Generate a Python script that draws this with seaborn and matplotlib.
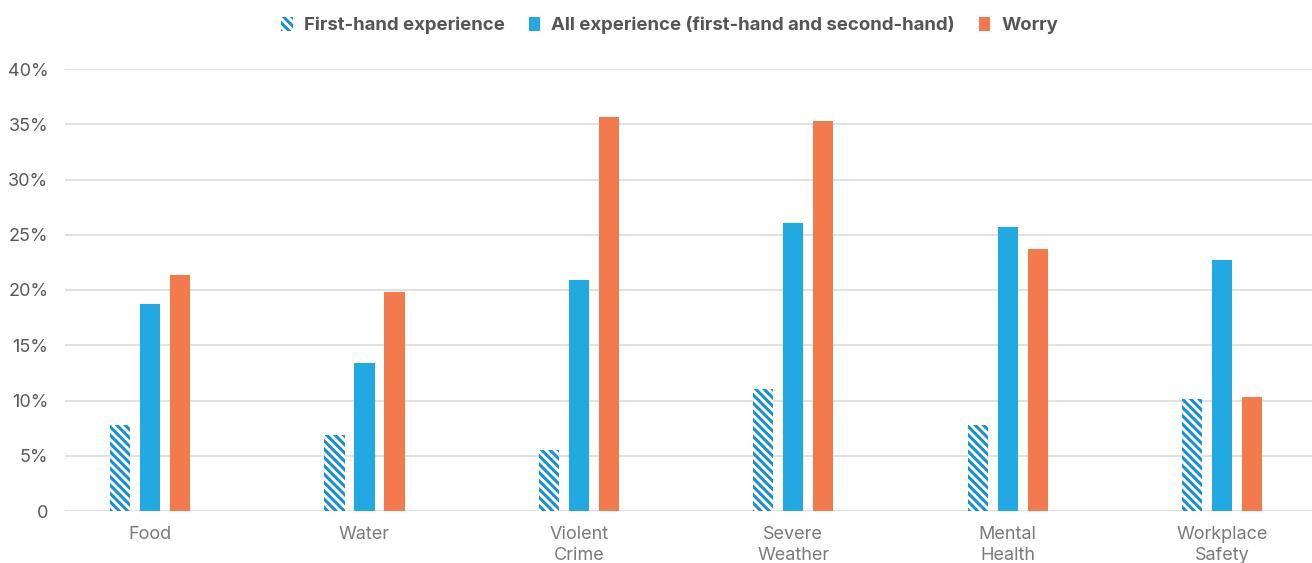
import matplotlib
matplotlib.use("Agg")
import matplotlib.pyplot as plt
import seaborn as sns
import pandas as pd
from matplotlib.patches import Patch
from matplotlib.ticker import FuncFormatter, MultipleLocator

categories = ["Food", "Water", "Violent\nCrime", "Severe\nWeather", "Mental\nHealth", "Workplace\nSafety"]
series = ["First-hand experience", "All experience (first-hand and second-hand)", "Worry"]
first_hand = [7.8, 6.9, 5.5, 11.0, 7.8, 10.1]
all_exp = [18.7, 13.4, 20.9, 26.1, 25.7, 22.7]
worry = [21.4, 19.8, 35.7, 35.3, 23.7, 10.3]

colors = ["#1a8fd0", "#22a9e1", "#f27a4c"]

rows = []
for s, vals in zip(series, [first_hand, all_exp, worry]):
    for c, v in zip(categories, vals):
        rows.append({"category": c, "series": s, "value": v})
df = pd.DataFrame(rows)

sns.set_theme(style="white")
plt.rcParams["font.family"] = ["Inter", "DejaVu Sans"]
plt.rcParams["hatch.linewidth"] = 2.2

fig = plt.figure(figsize=(13.12, 5.63), dpi=100)
ax = fig.add_axes([65 / 1312, 52 / 563, (1312 - 65) / 1312, (511 - 69) / 563])

sns.barplot(data=df, x="category", y="value", hue="series", order=categories,
            hue_order=series, palette=colors, width=0.42, gap=0.33,
            ax=ax, legend=False, saturation=1)

for bar in ax.containers[0]:
    bar.set_facecolor("white")
    bar.set_edgecolor(colors[0])
    bar.set_hatch("\\\\\\\\")
    bar.set_linewidth(0)
for cont in ax.containers[1:]:
    for bar in cont:
        bar.set_linewidth(0)

ax.set_ylim(0, 40)
ax.set_xlim(-0.397, 5.42)
ax.yaxis.set_major_locator(MultipleLocator(5))
ax.yaxis.set_major_formatter(FuncFormatter(lambda v, p: "0" if v == 0 else f"{v:.0f}%"))
ax.grid(axis="y", color="#d9d9d9", linewidth=1.1)
ax.set_axisbelow(True)
for sp in ax.spines.values():
    sp.set_visible(False)
ax.set_xlabel("")
ax.set_ylabel("")
ax.tick_params(axis="y", labelsize=13, labelcolor="#595959", pad=12, length=0)
ax.tick_params(axis="x", labelsize=13, labelcolor="#7a7a7a", pad=11, length=0)
for lbl in ax.get_xticklabels():
    lbl.set_linespacing(1.3)

handles = [
    Patch(facecolor="white", edgecolor=colors[0], hatch="\\\\\\\\", linewidth=0),
    Patch(facecolor=colors[1], linewidth=0),
    Patch(facecolor=colors[2], linewidth=0),
]
fig.legend(handles, series, loc="center", bbox_to_anchor=(0.5105, 0.955), ncol=3,
           frameon=False, handlelength=0.6, handleheight=0.75, handletextpad=0.6,
           columnspacing=1.3,
           prop={"weight": "bold", "size": 13.4}, labelcolor="#555555")

fig.savefig("out.png", dpi=100)
